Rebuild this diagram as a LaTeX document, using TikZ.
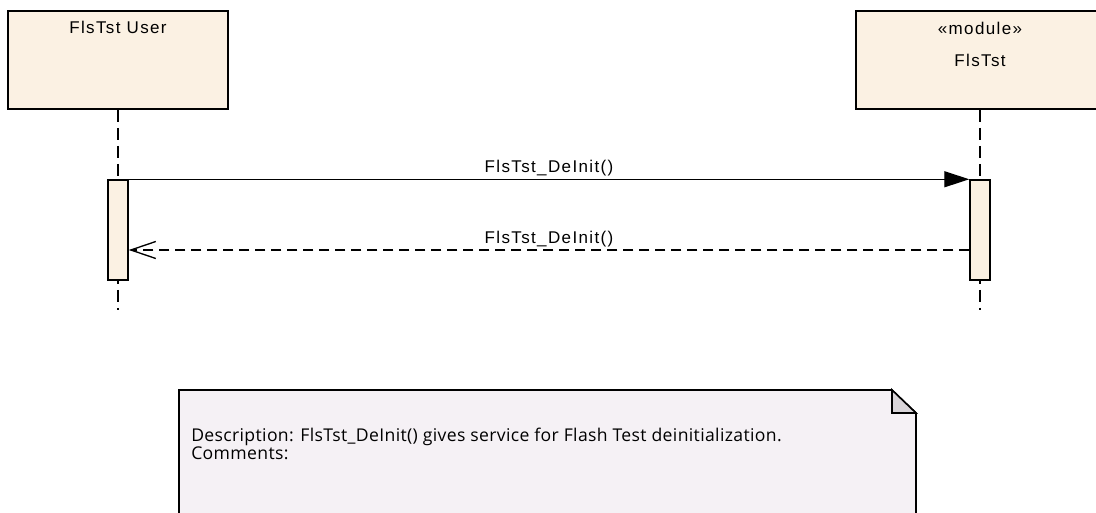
\documentclass[tikz,border=0pt]{standalone}
\usepackage{fontspec}
\setmainfont{Liberation Sans}
\newfontfamily\umlfont[LetterSpace=8]{Liberation Sans}
\newfontfamily\notefont[LetterSpace=2]{Open Sans}
\usetikzlibrary{arrows.meta, positioning, calc}
\definecolor{headfill}{RGB}{251,241,227}
\definecolor{notefill}{RGB}{245,241,245}
\definecolor{foldfill}{RGB}{216,212,216}

\begin{document}
\begin{tikzpicture}[
    x=0.75pt, y=-0.75pt,
    headbox/.style={rectangle, draw, fill=headfill, line width=1.2pt, minimum height=73.5pt, inner sep=0pt},
    actbox/.style={rectangle, draw, fill=headfill, line width=1.1pt, minimum width=15pt, minimum height=75pt, inner sep=0pt},
    lbl/.style={font=\umlfont\fontsize{12.75}{15}\selectfont, anchor=base, inner sep=0pt},
    lifeline/.style={draw, line width=1pt, dash pattern=on 9pt off 4.5pt},
    msg/.style={draw, line width=1pt, -{Triangle[length=18.75pt, width=12pt]}},
    reply/.style={draw, line width=1pt, dash pattern=on 7.5pt off 4.5pt, -{Straight Barb[length=18.75pt, width=12.75pt]}}
]
    \useasboundingbox (0,0) rectangle (1096,513);
    \clip (0,0) rectangle (1096,513);

    % Lifeline heads
    \node[headbox, minimum width=165pt] (user) at (118,60) {};
    \node[headbox, minimum width=186pt] (fls) at (980,60) {};
    \node[lbl] (userlbl) at (118,34) {FlsTst User};
    \node[lbl] (stereo) at (980,35) {«module»};
    \node[lbl] (flslbl) at (980,67) {FlsTst};

    % Lifelines
    \coordinate (userend) at (118,310);
    \coordinate (flsend) at (980,310);
    \draw[lifeline] (user.south) -- (userend);
    \draw[lifeline] (fls.south) -- (flsend);

    % Activations
    \node[actbox] (useract) at (118,230) {};
    \node[actbox] (flsact) at (980,230) {};

    % Messages
    \coordinate (callfrom) at (useract.north east);
    \coordinate (callto) at (flsact.north west);
    \draw[msg] (callfrom) -- node[lbl, above=2pt] (calllbl) {FlsTst\_DeInit()} (callto);
    \coordinate (retfrom) at ($(flsact.west)+(0,20)$);
    \coordinate (retto) at ($(useract.east)+(0,20)$);
    \draw[reply] (retfrom) -- node[lbl, above=2pt] (retlbl) {FlsTst\_DeInit()} (retto);

    % Note
    \draw[fill=notefill, line width=1.2pt] (179,390) -- (892,390) -- (916,413) -- (916,530) -- (179,530) -- cycle;
    \draw[fill=foldfill, line width=1.2pt] (892,390) -- (892,413) -- (916,413) -- cycle;
    \node[anchor=base west, align=left, inner sep=0pt, font=\notefont\fontsize{13.2}{13.5}\selectfont] (notetext) at (191,459)
        {Description: FlsTst\_DeInit() gives service for Flash Test deinitialization.\\Comments:};
\end{tikzpicture}
\end{document}
